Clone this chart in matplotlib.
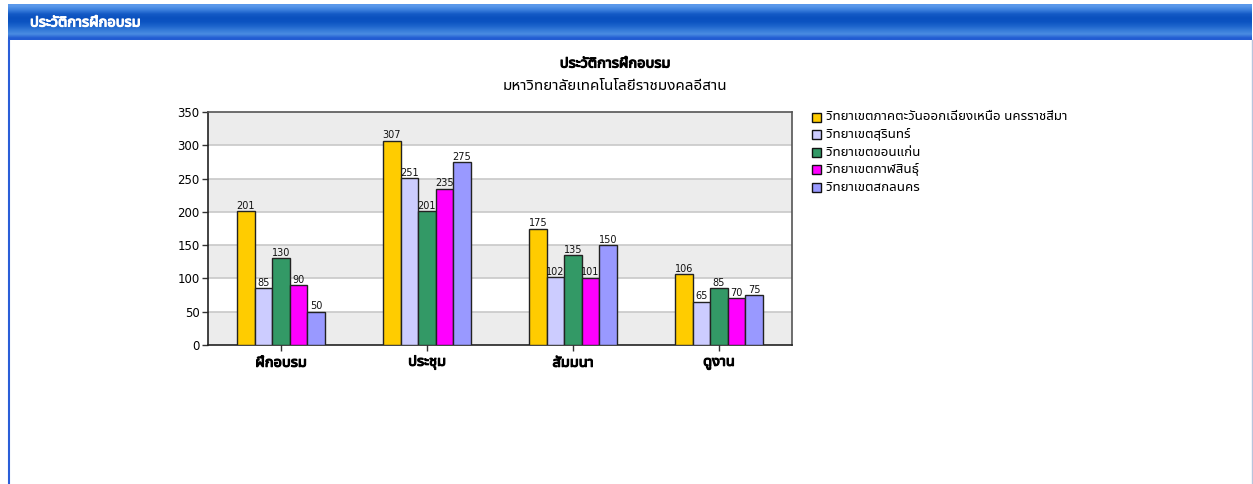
import numpy as np
import matplotlib
matplotlib.use("Agg")
import matplotlib.pyplot as plt
import matplotlib.patheffects as pe
from matplotlib.patches import Rectangle
from matplotlib.lines import Line2D

# ------ ข้อมูล
categories = ["ฝึกอบรม", "ประชุม", "สัมมนา", "ดูงาน"]
campuses = ["วิทยาเขตภาคตะวันออกเฉียงเหนือ นครราชสีมา", "วิทยาเขตสุรินทร์",
            "วิทยาเขตขอนแก่น", "วิทยาเขตกาฬสินธุ์", "วิทยาเขตสกลนคร"]
nakhon_ratchasima = [201, 307, 175, 106]
surin = [85, 251, 102, 65]
khon_kaen = [130, 201, 135, 85]
kalasin = [90, 235, 101, 70]
sakon_nakhon = [50, 275, 150, 75]
series = [nakhon_ratchasima, surin, khon_kaen, kalasin, sakon_nakhon]
colors = ["#FFCC00", "#CCCCFF", "#339966", "#FF00FF", "#9999FF"]
y_ticks = [0, 50, 100, 150, 200, 250, 300, 350]

header_title = "ประวัติการฝึกอบรม"
chart_title = "ประวัติการฝึกอบรม"
chart_subtitle = "มหาวิทยาลัยเทคโนโลยีราชมงคลอีสาน"

thai = ["Noto Sans Thai UI", "DejaVu Sans"]
W, H = 1253, 484

# ตัวหนาแบบเส้นขอบ (ฟอนต์นี้ไม่มีน้ำหนักตัวหนา)
def bold(color):
    return [pe.withStroke(linewidth=0.8, foreground=color)]

fig = plt.figure(figsize=(W / 100, H / 100), dpi=100)
fig.patch.set_facecolor("white")

#------ แถบหัวเรื่องสีน้ำเงิน
hx0, hy0, hx1, hy1 = 8, 4, 1252, 40
hax = fig.add_axes([hx0 / W, 1 - hy1 / H, (hx1 - hx0) / W, (hy1 - hy0) / H])
grad = np.array([[0x5a, 0x98, 0xea], [0x3a, 0x7e, 0xdc], [0x14, 0x5a, 0xc6],
                 [0x0a, 0x50, 0xbe], [0x0c, 0x54, 0xc2], [0x1c, 0x64, 0xcc],
                 [0x34, 0x7a, 0xd8], [0x4a, 0x8c, 0xe2], [0x22, 0x5c, 0xd2]]) / 255.0
hax.imshow(grad[:, None, :], aspect="auto", extent=[0, 1, 0, 1], interpolation="bilinear")
hax.set_axis_off()
fig.text(30 / W, 1 - 22 / H, header_title, color="white", fontsize=10.5,
         family=thai, va="center", ha="left", path_effects=bold("white"))

# ------ เส้นขอบ
fig.add_artist(Line2D([8.5 / W, 8.5 / W], [0, 1 - hy1 / H], color="#2a5ed8", lw=1.5))
fig.add_artist(Line2D([1251.5 / W, 1251.5 / W], [0, 1 - hy1 / H], color="#b8c4dc", lw=1))

# ------ ชื่อกราฟ
fig.text(615 / W, 1 - 63 / H, chart_title, fontsize=10.5, family=thai,
         ha="center", va="center", path_effects=bold("black"))
fig.text(615 / W, 1 - 86 / H, chart_subtitle, fontsize=11, family=thai,
         ha="center", va="center")

#------ กราฟแท่ง
ax = fig.add_axes([208 / W, 1 - 345 / H, 584 / W, 233 / H])
ax.set_xlim(-0.5, len(categories) - 0.5)
ax.set_ylim(0, 350)
for k in range(0, 350, 100):
    ax.axhspan(k, k + 50, color="#ececec", zorder=0, lw=0)
for t in y_ticks[1:-1]:
    ax.axhline(t, color="#c8c8c8", lw=1.2, zorder=1)

x = np.arange(len(categories))
bw = 0.12
for i, (vals, c) in enumerate(zip(series, colors)):
    pos = x + (i - 2) * bw
    ax.bar(pos, vals, width=bw, color=c, edgecolor="#222222", lw=1, zorder=3)
    for p, v in zip(pos, vals):
        ax.text(p, v + 0.5, str(v), ha="center", va="bottom", fontsize=7,
                color="#111111", zorder=4)

ax.set_yticks(y_ticks)
ax.set_yticklabels([str(t) for t in y_ticks], fontsize=8.5)
ax.set_xticks(x)
ax.set_xticklabels(categories, fontsize=10.5, family=thai)
for lab in ax.get_xticklabels():
    lab.set_path_effects(bold("black"))
ax.tick_params(axis="both", length=4, width=1, color="#333333", pad=2)
ax.tick_params(axis="x", pad=3)
for s in ["left", "bottom"]:
    ax.spines[s].set_color("#222222")
    ax.spines[s].set_linewidth(1.2)
for s in ["top", "right"]:
    ax.spines[s].set_color("#555555")
    ax.spines[s].set_linewidth(1.2)

#------ คำอธิบาย
for i, (name, c) in enumerate(zip(campuses, colors)):
    ly = 117 + i * 17.6
    fig.add_artist(Rectangle((812 / W, 1 - (ly + 4.5) / H), 9 / W, 9 / H,
                             facecolor=c, edgecolor="#111111", lw=1,
                             transform=fig.transFigure))
    fig.text(826 / W, 1 - ly / H, name, fontsize=9.6, family=thai,
             ha="left", va="center")

fig.savefig("out.png", dpi=100)
